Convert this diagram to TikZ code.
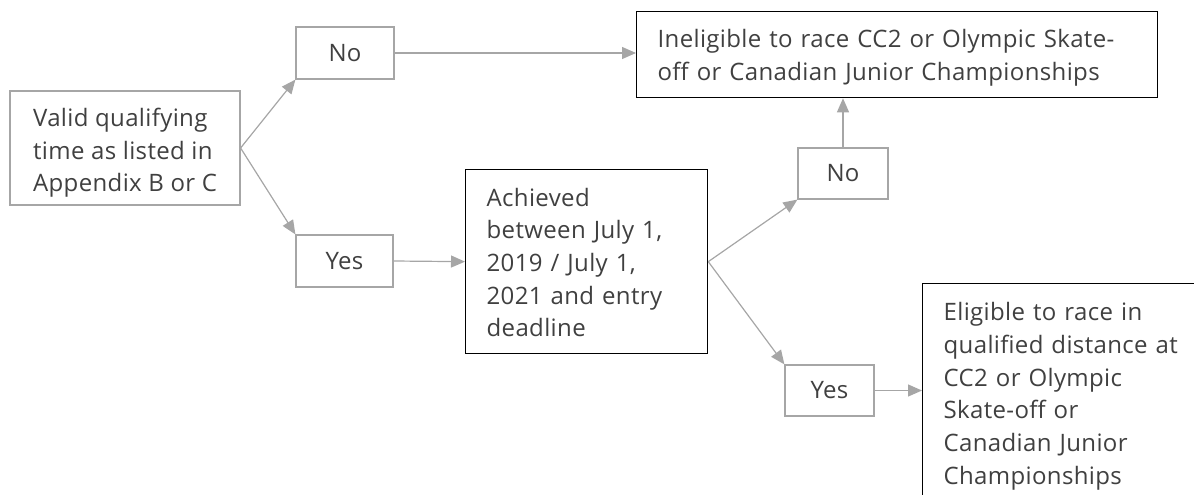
\documentclass[tikz,border=0pt]{standalone}
\usepackage{fontspec}
\setmainfont{Open Sans}[LetterSpace=1.5]
\usetikzlibrary{arrows.meta}
\definecolor{txt}{HTML}{404040}
\definecolor{lgray}{HTML}{A6A6A6}
\tikzset{
  base/.style={font=\fontsize{24}{32.7}\selectfont, text=txt, inner sep=0pt},
  lightbox/.style={base, draw=lgray, line width=1.2pt, fill=white},
  darkbox/.style={base, draw=black, line width=1.3pt, fill=white, align=left},
  conn/.style={draw=lgray, line width=1.2pt, -{Triangle[length=14pt,width=12pt]}},
}
\begin{document}
\begin{tikzpicture}[x=1pt,y=-1pt]
\useasboundingbox (0,0) rectangle (1194,495);
\clip (0,0) rectangle (1194,495);
% boxes
\node[lightbox, minimum width=230pt, minimum height=114pt, align=left] (valid) at (125,148)
  {\rule{0pt}{28pt}Valid qualifying\\time as listed in\\Appendix B or C};
\node[lightbox, minimum width=98pt, minimum height=52pt] (no1) at (345,53) {No};
\node[lightbox, minimum width=97pt, minimum height=52pt] (yes1) at (344.5,261) {Yes};
\node[darkbox, anchor=north west, text width=200pt, inner xsep=21pt, minimum height=184pt] (ach) at (465,169)
  {\rule{0pt}{20pt}Achieved\\between July 1,\\2019 / July 1,\\2021 and entry\\deadline};
\node[darkbox, anchor=north west, text width=479pt, inner xsep=21pt, minimum height=86pt] (inel) at (636,11)
  {\rule{0pt}{24.5pt}Ineligible to race CC2 or Olympic Skate-\\off or Canadian Junior Championships};
\node[lightbox, minimum width=90pt, minimum height=51pt] (no2) at (843,173.5) {No};
\node[lightbox, minimum width=89pt, minimum height=51pt] (yes2) at (829.5,390.5) {Yes};
\node[darkbox, anchor=north west, text width=260pt, inner xsep=21pt, inner ysep=19pt] (elig) at (922,283)
  {Eligible to race in\\qualified distance at\\CC2 or Olympic\\Skate-off or\\Canadian Junior\\Championships};
% connectors
\draw[conn] (valid.east) -- (no1.south west);
\draw[conn] (valid.east) -- (yes1.north west);
\draw[conn] (no1.east) -- (no1.east -| inel.west);
\draw[conn] (yes1.east) -- (ach.west);
\draw[conn] (ach.east) -- (no2.south west);
\draw[conn] (ach.east) -- (yes2.north west);
\draw[conn] (no2.north) -- (no2.north |- inel.south);
\draw[conn] (yes2.east) -- (yes2.east -| elig.west);
\end{tikzpicture}
\end{document}
